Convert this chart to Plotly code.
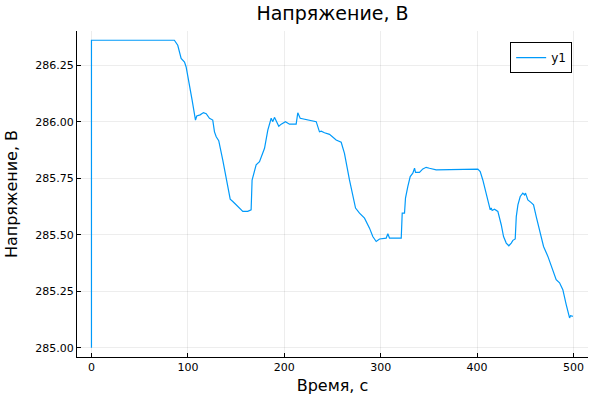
import plotly.graph_objects as go

time_s = [0, 0, 86, 89.5, 93, 96.5, 98.2, 101, 104.4, 107.9, 109.2, 112.7, 116.2, 119, 122.4, 125.8,
          127.6, 129.4, 132, 136.2, 139.7, 143.9, 146.6, 150.1, 153.5, 157, 162.1, 165.6, 166.6, 170.8,
          174.3, 179.5, 182.9, 186.4, 188.1, 189.8, 194.3, 196.8, 201.2, 205.4, 212.3, 214, 216.5,
          222.7, 233.1, 236.5, 238.3, 241.7, 246.9, 253.8, 259, 262.4, 267.6, 273.9, 278, 283.2,
          288.4, 291.8, 295.3, 298.8, 305.7, 307.4, 309.1, 321.3, 322.3, 324.7, 325.7, 328.1, 330.6,
          333.3, 335.1, 336.1, 340.2, 343.7, 347.1, 350.6, 357.5, 400.7, 403.2, 405.9, 408.7, 411.1,
          413.6, 414.6, 415.6, 418, 421.5, 425, 427.4, 430.2, 432.9, 435.4, 437.1, 439.5, 440.6,
          442.3, 444.7, 447.4, 449.2, 450.2, 452.6, 456.1, 458.5, 461.3, 464.7, 468.9, 473.4, 477.9,
          482, 485.5, 488.9, 492.4, 495.9, 496.9, 499.3]
voltage = [285.00, 286.36, 286.36, 286.338, 286.28, 286.264, 286.242, 286.18, 286.095, 286.007, 286.025,
           286.03, 286.04, 286.035, 286.015, 286.007, 285.955, 285.933, 285.916, 285.83, 285.75, 285.657,
           285.647, 285.632, 285.618, 285.603, 285.603, 285.61, 285.742, 285.809, 285.823, 285.882,
           285.963, 286.015, 286.0, 286.019, 285.98, 285.989, 286.0, 285.989, 285.989, 286.039, 286.015,
           286.01, 286.0, 285.955, 285.958, 285.951, 285.944, 285.919, 285.909, 285.86, 285.742, 285.618,
           285.595, 285.573, 285.529, 285.492, 285.47, 285.481, 285.485, 285.504, 285.485, 285.485,
           285.595, 285.595, 285.662, 285.713, 285.757, 285.772, 285.794, 285.776, 285.776, 285.791,
           285.798, 285.794, 285.787, 285.79, 285.779, 285.742, 285.69, 285.647, 285.61, 285.618,
           285.607, 285.613, 285.603, 285.544, 285.492, 285.463, 285.451, 285.463, 285.475, 285.481,
           285.58, 285.632, 285.669, 285.684, 285.676, 285.684, 285.654, 285.642, 285.632, 285.58,
           285.522, 285.448, 285.404, 285.345, 285.301, 285.287, 285.257, 285.191, 285.132, 285.142,
           285.139]

x_ticks = [0, 100, 200, 300, 400, 500]
y_ticks = [285.00, 285.25, 285.50, 285.75, 286.00, 286.25]
y_tick_labels = ["285.00", "285.25", "285.50", "285.75", "286.00", "286.25"]

font = "DejaVu Sans"
fig = go.Figure()
fig.add_trace(go.Scatter(x=time_s, y=voltage, mode="lines", name="y1",
                         line=dict(color="#009AFA", width=1.2)))

axis_common = dict(showline=True, linecolor="black", linewidth=1, mirror=False,
                   showgrid=True, gridcolor="rgba(0,0,0,0.07)", gridwidth=0.5,
                   zeroline=False, ticks="inside", ticklen=4, tickcolor="black",
                   automargin=False,
                   tickfont=dict(family=font, size=11, color="black"))

fig.update_layout(
    width=600, height=400,
    paper_bgcolor="white", plot_bgcolor="white",
    margin=dict(l=77, r=12, t=31, b=43),
    title=dict(text="Напряжение, В", x=(77 + 588) / 2 / 600, xanchor="center",
               y=1 - 13 / 400, yanchor="middle",
               font=dict(family=font, size=19, color="black")),
    showlegend=True,
    legend=dict(x=0.969, y=0.966, xanchor="right", yanchor="top",
                bordercolor="black", borderwidth=1, bgcolor="white",
                font=dict(family=font, size=12, color="black"),
                itemwidth=30, tracegroupgap=0),
    xaxis=dict(range=[-15, 515], tickvals=x_ticks,
               title=dict(text="Время, с", font=dict(family=font, size=16, color="black"), standoff=6),
               **axis_common),
    yaxis=dict(range=[284.959, 286.401], tickvals=y_ticks, ticktext=y_tick_labels,
               title=dict(text="Напряжение, В", font=dict(family=font, size=16, color="black"), standoff=13),
               **axis_common),
)

fig.write_html("out.html", config={"displayModeBar": False},
               post_script="document.body.style.margin='0';")
